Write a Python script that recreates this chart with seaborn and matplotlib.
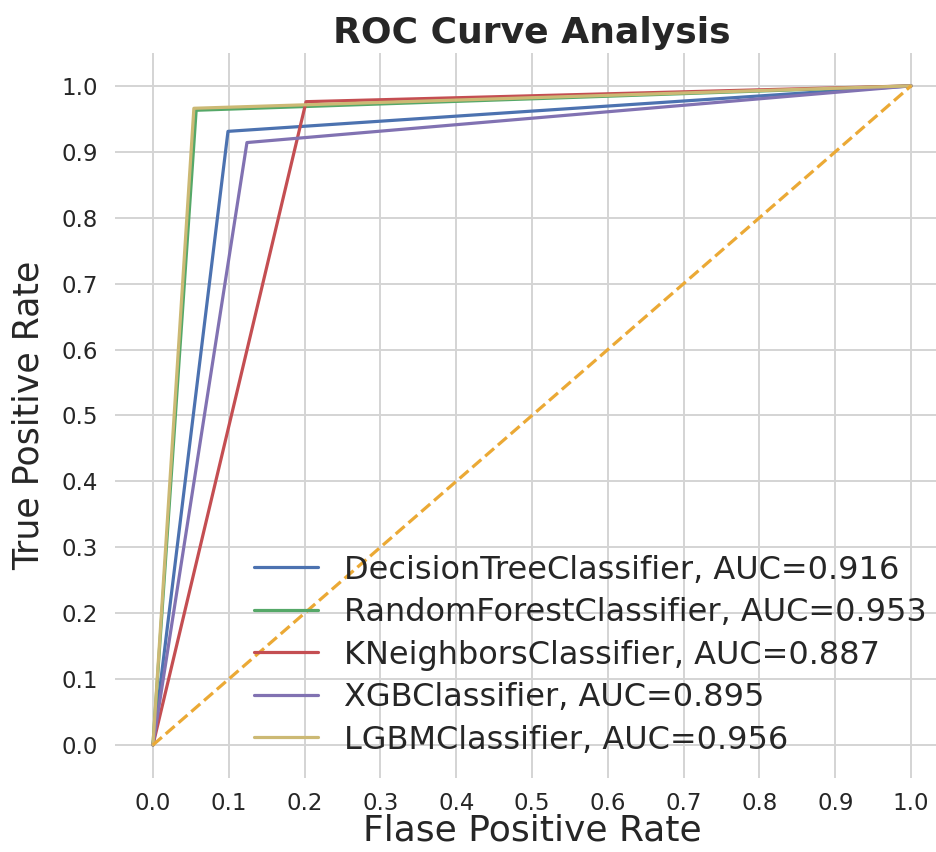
import matplotlib
matplotlib.use("Agg")
from matplotlib import pyplot as plt
import seaborn as sns

# Datos de las curvas ROC (un umbral por modelo)
models = ["DecisionTreeClassifier", "RandomForestClassifier", "KNeighborsClassifier",
          "XGBClassifier", "LGBMClassifier"]
auc_scores = [0.916, 0.953, 0.887, 0.895, 0.956]
fpr_mid = [0.099, 0.057, 0.202, 0.124, 0.054]
tpr_mid = [0.931, 0.963, 0.976, 0.914, 0.966]
ticks = [0.0, 0.1, 0.2, 0.3, 0.4, 0.5, 0.6, 0.7, 0.8, 0.9, 1.0]

colors = ["#4C72B0", "#55A868", "#C44E52", "#8172B2", "#CCB974"]

sns.set_theme(style="whitegrid")
plt.rcParams["font.family"] = ["DejaVu Sans"]

fig = plt.figure(figsize=(9.36, 8.52), dpi=100)
ax = fig.add_axes([0.1229, 0.0869, 0.891, 0.851])

for name, auc, f, t, c in zip(models, auc_scores, fpr_mid, tpr_mid, colors):
    sns.lineplot(x=[0.0, f, 1.0], y=[0.0, t, 1.0], sort=False, estimator=None,
                 color=c, linewidth=2.3, label=f"{name}, AUC={auc:.3f}", ax=ax)

# Linea de referencia
ax.plot([0, 1], [0, 1], color="#EBA935", linestyle="--", linewidth=2.3)

ax.set_xlim(-0.05, 1.05)
ax.set_ylim(-0.05, 1.05)
ax.set_xticks(ticks)
ax.set_yticks(ticks)
ax.tick_params(axis="both", labelsize=16.5, length=0, labelcolor="#262626")
ax.tick_params(axis="x", pad=10)
ax.tick_params(axis="y", pad=12)
ax.grid(True, color="#d4d4d4", linewidth=1.4)
for s in ax.spines.values():
    s.set_visible(False)

ax.set_title("ROC Curve Analysis", fontsize=26, fontweight="bold", pad=7, color="#262626")
ax.set_xlabel("Flase Positive Rate", fontsize=26, labelpad=-1, color="#262626")
ax.set_ylabel("True Positive Rate", fontsize=25, labelpad=12, color="#262626")

leg = ax.legend(loc="lower right", fontsize=23, frameon=False, labelspacing=0.36,
                borderaxespad=0.3)
for txt in leg.get_texts():
    txt.set_color("#262626")

fig.savefig("out.png", dpi=100)
